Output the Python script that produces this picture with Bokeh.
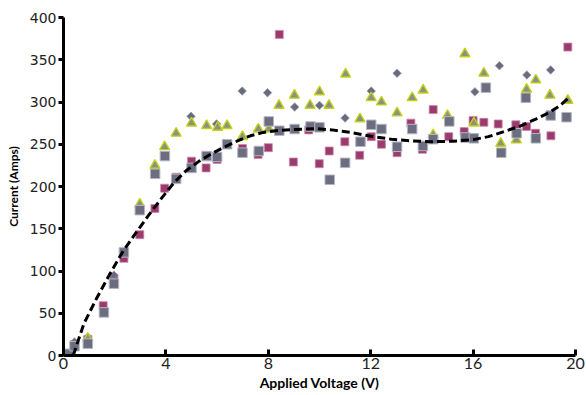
import math
from bokeh.plotting import figure
from bokeh.models import ColumnDataSource, FixedTicker, Range1d
from bokeh.embed import file_html
from bokeh.resources import INLINE

# ---- data ----
maroon_v = [0.43, 0.95, 1.55, 1.97, 2.36, 2.98, 3.57, 3.95, 4.40, 5.00,
            5.57, 6.00, 6.99, 7.60, 8.00, 8.43, 8.98, 9.58, 9.99, 10.38,
            10.99, 11.57, 12.02, 12.42, 13.03, 13.57, 14.02, 14.44, 15.05, 15.65,
            16.00, 16.42, 16.98, 17.67, 18.09, 18.44, 19.04, 19.70]
maroon_c = [13, 19, 59, 91, 115, 143, 174, 198, 211, 230,
            222, 232, 245, 238, 246, 380, 229, 267, 227, 242,
            253, 237, 259, 250, 240, 275, 244, 291, 259, 265,
            278, 276, 274, 273, 271, 263, 260, 365]

diamond_v = [0.43, 0.95, 1.97, 4.98, 5.98, 6.98, 7.97, 9.03, 10.00, 11.00,
             12.02, 13.03, 15.00, 16.07, 17.03, 18.10, 19.03]
diamond_c = [16, 22, 95, 283, 274, 313, 311, 294, 296, 281,
             313, 334, 282, 312, 343, 332, 338]

tri_v = [0.95, 2.98, 3.57, 3.95, 4.40, 5.00, 5.59, 6.02, 6.39, 6.99,
         7.61, 8.02, 8.42, 9.02, 9.63, 10.00, 10.37, 11.02, 11.58, 12.02,
         12.42, 13.03, 13.62, 14.05, 14.44, 15.00, 15.68, 16.03, 16.42, 17.08,
         17.69, 18.09, 18.45, 19.00, 19.70]
tri_c = [20, 179, 225, 247, 263, 275, 272, 270, 272, 259,
         268, 268, 296, 308, 296, 312, 296, 333, 280, 305,
         300, 287, 305, 314, 261, 284, 357, 275, 334, 251,
         255, 315, 326, 308, 302]

gray_v = [0.23, 0.43, 0.95, 1.58, 1.97, 2.36, 2.98, 3.58, 3.96, 4.40,
          5.00, 5.59, 6.00, 6.39, 6.99, 7.63, 8.02, 8.43, 9.03, 9.65,
          10.00, 10.40, 11.00, 11.60, 12.02, 12.42, 13.03, 13.62, 14.04, 14.44,
          15.07, 15.70, 16.03, 16.50, 17.10, 17.70, 18.06, 18.45, 19.03, 19.65]
gray_c = [2, 11, 14, 51, 85, 122, 172, 215, 236, 209,
          222, 236, 235, 250, 240, 242, 277, 266, 268, 271,
          270, 208, 228, 253, 273, 268, 247, 268, 248, 256,
          277, 258, 257, 317, 240, 263, 305, 257, 284, 282]

fit_v = [0.38, 0.8, 1.3, 1.8, 2.3, 2.8, 3.3, 3.8, 4.3, 4.8,
         5.3, 5.8, 6.3, 6.8, 7.3, 7.8, 8.3, 9.0, 9.8, 10.5,
         11.2, 12.0, 12.8, 13.6, 14.4, 15.2, 16.0, 16.6, 17.2, 17.8,
         18.4, 19.0, 19.4, 19.7]
fit_c = [0, 38, 68, 96, 122, 144, 165, 185, 204, 219,
         230, 239, 247, 254, 260, 264, 266, 267.5, 268.5, 267,
         264, 259.5, 256, 254, 253, 253.5, 255.5, 259, 265, 271,
         279, 288, 296, 304]

x_ticks = [0, 4, 8, 12, 16, 20]
y_ticks = [0, 50, 100, 150, 200, 250, 300, 350, 400]

# ---- figure ----
p = figure(width=586, height=395, output_backend="svg", toolbar_location=None,
           x_range=Range1d(0, 20), y_range=Range1d(0, 400),
           min_border_left=63, min_border_right=11, min_border_top=17,
           min_border_bottom=40)
p.background_fill_color = "white"
p.border_fill_color = "white"
p.outline_line_color = None
p.grid.visible = False

p.scatter(maroon_v, maroon_c, marker="square", size=8,
          fill_color="#9B3A6C", line_color="#C98BAA", line_width=0.8)
p.scatter(diamond_v, diamond_c, marker="square", size=6, angle=math.pi / 4,
          fill_color="#686A7E", line_color="#9A9CAC", line_width=0.8)
p.scatter(tri_v, tri_c, marker="triangle", size=10,
          fill_color="#8E9182", line_color="#C2D41A", line_width=1.4)
p.scatter(gray_v, gray_c, marker="square", size=9.5,
          fill_color="#6C6E80", line_color="#B4B5C4", line_width=1)
p.line(fit_v, fit_c, line_color="black", line_width=3, line_dash="8 4")

for ax in (p.xaxis, p.yaxis):
    ax.axis_line_width = 3
    ax.axis_line_color = "black"
    ax.major_tick_line_width = 3
    ax.major_tick_line_color = "black"
    ax.minor_tick_line_color = None
    ax.major_label_text_color = "#222222"
    ax.axis_label_text_color = "black"
    ax.axis_label_text_font_style = "bold"

p.xaxis.ticker = FixedTicker(ticks=x_ticks)
p.xaxis.major_tick_in = 6
p.xaxis.major_tick_out = 0
p.xaxis.major_label_text_font = "Lato"
p.xaxis.major_label_text_font_size = "16px"
p.xaxis.major_label_standoff = 2
p.xaxis.axis_label = "Applied Voltage (V)"
p.xaxis.axis_label_text_font = "Lato"
p.xaxis.axis_label_text_font_size = "14px"
p.xaxis.axis_label_standoff = 2

p.yaxis.ticker = FixedTicker(ticks=y_ticks)
p.yaxis.major_tick_in = 0
p.yaxis.major_tick_out = 5
p.yaxis.major_label_text_font = "DejaVu Sans"
p.yaxis.major_label_text_font_size = "14px"
p.yaxis.major_label_standoff = 2
p.yaxis.axis_label = "Current (Amps)"
p.yaxis.axis_label_text_font = "Lato"
p.yaxis.axis_label_text_font_size = "12px"
p.yaxis.axis_label_standoff = 6

open("out.html", "w").write(file_html(p, INLINE))
